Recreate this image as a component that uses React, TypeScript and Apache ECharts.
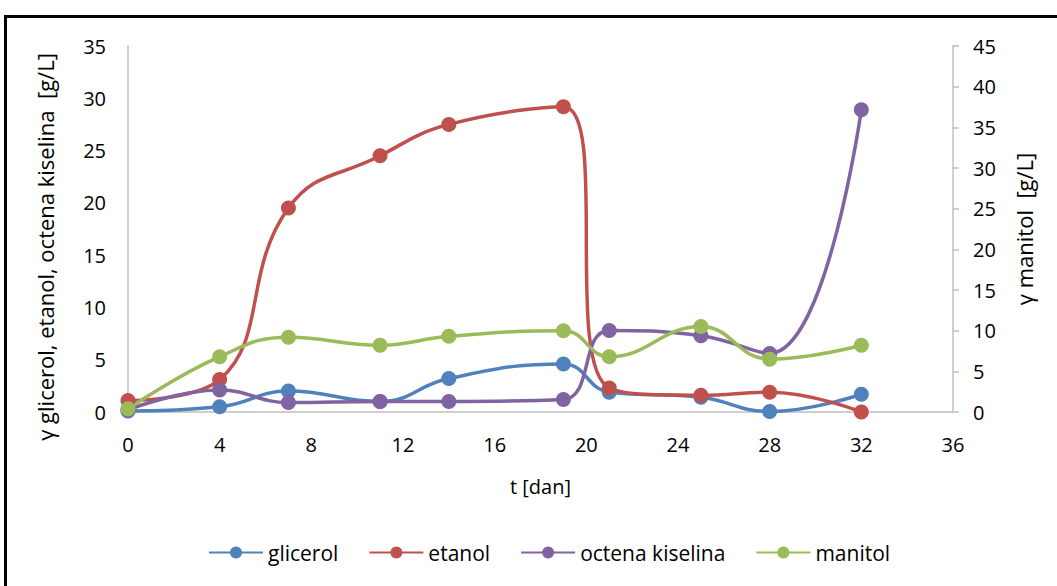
import React, { useEffect, useRef } from "react";
import * as echarts from "echarts";

const days = [0, 4, 7, 11, 14, 19, 21, 25, 28, 32];
const glicerol = [0.1, 0.5, 2.0, 1.0, 3.2, 4.6, 1.9, 1.4, 0.05, 1.7];
const etanol = [1.1, 3.1, 19.5, 24.5, 27.5, 29.2, 2.3, 1.6, 1.9, 0];
const octenaKiselina = [0.2, 2.1, 0.9, 1.0, 1.0, 1.2, 7.8, 7.3, 5.6, 28.9];
const manitol = [0.4, 6.8, 9.2, 8.2, 9.3, 10.0, 6.8, 10.5, 6.5, 8.2];

const leftTitle = "γ glicerol, etanol, octena kiselina  [g/L]";
const rightTitle = "γ manitol  [g/L]";
const xTitle = "t [dan]";

const FONT = "'Open Sans', 'Noto Sans', sans-serif";

export default function App() {
  const ref = useRef<HTMLDivElement>(null);
  useEffect(() => {
    if (!ref.current) return;
    const chart = echarts.init(ref.current, undefined, { renderer: "svg" });
    const pairs = (ys: number[]) => days.map((d, i) => [d, ys[i]]);
    const mk = (name: string, ys: number[], color: string, yAxisIndex = 0) => ({
      name,
      type: "line",
      yAxisIndex,
      data: pairs(ys),
      smooth: 0.45,
      symbol: "circle",
      symbolSize: 15,
      lineStyle: { width: 3.5, color },
      itemStyle: { color },
      z: 3,
    });
    chart.setOption({
      animation: false,
      textStyle: { fontFamily: FONT },
      graphic: [
        {
          type: "rect",
          shape: { x: 5.5, y: 16.5, width: 1100, height: 620 },
          style: { fill: "none", stroke: "#000", lineWidth: 3 },
          silent: true,
        },
        {
          type: "text",
          x: 45,
          y: 247,
          rotation: Math.PI / 2,
          style: {
            text: leftTitle,
            fontSize: 22,
            fontFamily: FONT,
            fill: "#000",
            align: "center",
            verticalAlign: "middle",
          },
          silent: true,
        },
        {
          type: "text",
          x: 1024,
          y: 229,
          rotation: Math.PI / 2,
          style: {
            text: rightTitle,
            fontSize: 22,
            fontFamily: FONT,
            fill: "#000",
            align: "center",
            verticalAlign: "middle",
          },
          silent: true,
        },
      ],
      grid: { left: 128, right: 104, top: 46, bottom: 174 },
      legend: {
        top: 537,
        left: 203,
        itemWidth: 54,
        itemHeight: 15,
        itemGap: 30,
        textStyle: { fontSize: 21, fontFamily: FONT, color: "#000" },
        data: ["glicerol", "etanol", "octena kiselina", "manitol"],
      },
      xAxis: {
        type: "value",
        min: 0,
        max: 36,
        interval: 4,
        name: xTitle,
        nameLocation: "middle",
        nameGap: 64,
        nameTextStyle: { fontSize: 20, color: "#000", fontFamily: FONT },
        axisLine: { show: true, onZero: false, lineStyle: { color: "#BFBFBF", width: 1.5 } },
        axisTick: { show: false },
        splitLine: { show: false },
        axisLabel: { fontSize: 20, color: "#000", margin: 22, fontFamily: FONT },
      },
      yAxis: [
        {
          type: "value",
          min: 0,
          max: 35,
          interval: 5,
          axisLine: { show: true, lineStyle: { color: "#BFBFBF", width: 1.5 } },
          axisTick: { show: false },
          splitLine: { show: false },
          axisLabel: { fontSize: 20, color: "#000", margin: 22, fontFamily: FONT },
        },
        {
          type: "value",
          min: 0,
          max: 45,
          interval: 5,
          position: "right",
          axisLine: { show: true, lineStyle: { color: "#BFBFBF", width: 1.5 } },
          axisTick: { show: true, length: 6, lineStyle: { color: "#BFBFBF", width: 1.5 } },
          splitLine: { show: false },
          axisLabel: { fontSize: 20, color: "#000", margin: 20, fontFamily: FONT },
        },
      ],
      series: [
        mk("glicerol", glicerol, "#4F81BD"),
        mk("etanol", etanol, "#C0504D"),
        mk("octena kiselina", octenaKiselina, "#8064A2"),
        mk("manitol", manitol, "#9BBB59", 1),
      ],
    });
    return () => chart.dispose();
  }, []);
  return (
    <div
      ref={ref}
      style={{ position: "absolute", left: 0, top: 0, width: 1057, height: 586, background: "#fff" }}
    />
  );
}
